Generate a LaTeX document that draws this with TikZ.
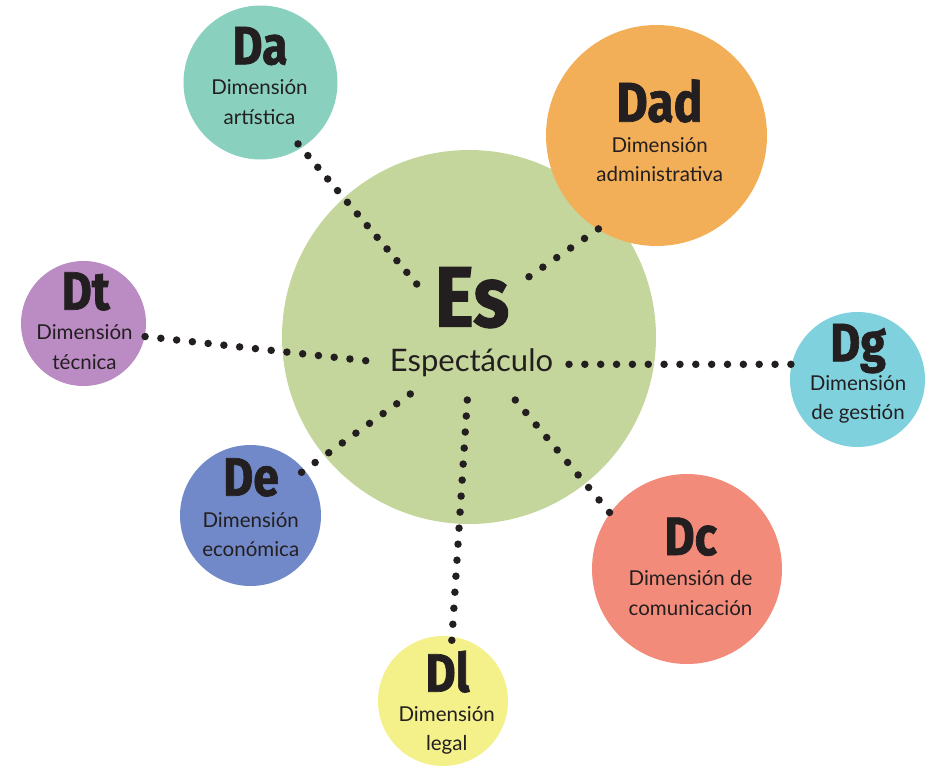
\documentclass[tikz,border=0pt]{standalone}
\usepackage{fontspec}
\setmainfont{Lato}
\newfontfamily\fuenteSigla[FakeStretch=0.86, FakeBold=1.2]{Fira Sans}
\usetikzlibrary{positioning}
\definecolor{tinta}{HTML}{231F20}
\definecolor{verdeEs}{HTML}{C4D69C}
\definecolor{turquesa}{HTML}{89D0BE}
\definecolor{naranja}{HTML}{F2AF58}
\definecolor{lila}{HTML}{BB8BC4}
\definecolor{celeste}{HTML}{7FD1DD}
\definecolor{azul}{HTML}{7189C8}
\definecolor{salmon}{HTML}{F28B7A}
\definecolor{amarillo}{HTML}{F4F08A}
\tikzset{
  circuloBase/.style={circle, draw=none, inner sep=0pt, outer sep=0pt},
  sigla/.style={font=\fuenteSigla\bfseries\fontsize{54}{54}\selectfont,
    text=tinta, anchor=base, inner sep=0pt},
  siglaGrande/.style={sigla, font=\fuenteSigla\bfseries\fontsize{86}{86}\selectfont},
  descripcion/.style={font=\fontsize{20.5}{29.5}\selectfont, text=tinta,
    align=center, anchor=base, inner sep=0pt},
  punteado/.style={tinta, line width=7.5pt, line cap=round,
    dash pattern=on 0pt off #1},
}

\begin{document}
\begin{tikzpicture}[x=1pt, y=-1pt]
  \useasboundingbox (0,0) rectangle (930,766);

  % Circulos
  \node[circuloBase, fill=verdeEs, minimum size=374pt] (es) at (469,337) {};
  \node[circuloBase, fill=naranja, minimum size=221pt] (dad) at (656.5,135.5) {};
  \node[circuloBase, fill=turquesa, minimum size=154pt] (da) at (260.5,82.5) {};
  \node[circuloBase, fill=lila, minimum size=125pt] (dt) at (83.5,323.5) {};
  \node[circuloBase, fill=celeste, minimum size=135pt] (dg) at (857.5,379.5) {};
  \node[circuloBase, fill=azul, minimum size=141pt] (de) at (250.5,515.5) {};
  \node[circuloBase, fill=salmon, minimum size=190pt] (dc) at (687,569) {};
  \node[circuloBase, fill=amarillo, minimum size=130pt] (dl) at (443,701) {};

  % Textos (las descripciones van por la base de su ultima linea)
  \node[siglaGrande] (esT) at (472,326.7) {Es};
  \node[descripcion, font=\fontsize{31}{31}\selectfont] (esD) at (471.5,371.7) {Espectáculo};
  \node[sigla, font=\fuenteSigla\bfseries\fontsize{56}{56}\selectfont] (dadT) at (659.5,121.7) {Dad};
  \node[descripcion] (dadD) at (659.7,181.5) {Dimensión\\administrativa};
  \node[sigla] (daT) at (260,64.3) {Da};
  \node[descripcion] (daD) at (259.5,124.3) {Dimensión\\artística};
  \node[sigla] (dtT) at (85.7,309.7) {Dt};
  \node[descripcion] (dtD) at (84.5,369.2) {Dimensión\\técnica};
  \node[sigla] (dgT) at (858,361.3) {Dg};
  \node[descripcion] (dgD) at (858,419.7) {Dimensión\\de gestión};
  \node[sigla] (deT) at (251,495.7) {De};
  \node[descripcion] (deD) at (250.7,556.5) {Dimensión\\económica};
  \node[sigla] (dcT) at (690.7,555) {Dc};
  \node[descripcion] (dcD) at (690.5,615) {Dimensión de\\comunicación};
  \node[sigla] (dlT) at (447.5,691.7) {Dl};
  \node[descripcion] (dlD) at (446.7,750.7) {Dimensión\\legal};

  % Puntos de partida alrededor del centro
  \coordinate (esDa) at (416.7,284);
  \coordinate (esDad) at (529,276.7);
  \coordinate (esDt) at (365.7,360.7);
  \coordinate (esDg) at (569,364.3);
  \coordinate (esDe) at (410.3,394);
  \coordinate (esDl) at (467.3,400);
  \coordinate (esDc) at (515.3,400);

  % Lineas punteadas
  \draw[punteado=15.3pt, shorten >=-6pt] (esDa) -- (da.-58);
  \draw[punteado=16.85pt, shorten >=-1.5pt] (esDad) -- (dad.-122.6);
  \draw[punteado=15.85pt] (esDt) -- (dt.-12.6);
  \draw[punteado=15.85pt] (esDg) -- (dg.167);
  \draw[punteado=16.75pt, shorten >=-4pt] (esDe) -- (de.40.5);
  \draw[punteado=16.3pt] (esDc) -- (dc.144);
  \draw[punteado=16.05pt, shorten >=-4.5pt] (esDl) -- (dl.82.4);
\end{tikzpicture}
\end{document}
